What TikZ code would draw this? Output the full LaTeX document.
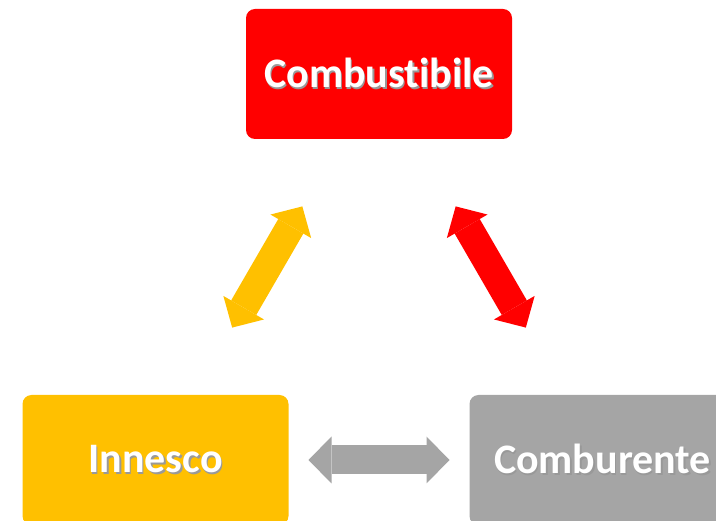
\documentclass[tikz,border=0pt]{standalone}
\usepackage{fontspec}
\setmainfont{Carlito}[Ligatures={NoCommon}]
\usepackage{xcolor}
\usetikzlibrary{arrows.meta}

\definecolor{fuelred}{HTML}{FF0000}
\definecolor{sparkyellow}{HTML}{FFC000}
\definecolor{oxgray}{HTML}{A5A5A5}
% white label with a soft drop shadow
\newcommand{\shadowed}[1]{\makebox[0pt][l]{\hspace{1.4pt}\raisebox{-1.8pt}{\textcolor{black!40}{#1}}}#1}

\tikzset{
  firebox/.style={rectangle, rounded corners=9pt, minimum width=266pt, minimum height=130pt,
    inner sep=0pt, text=white, font=\fontsize{42}{50}\selectfont\bfseries},
  fattip/.tip={Triangle[length=23pt, width=47pt, line width=0pt]},
  bigarrow/.style={line width=29pt, fattip-fattip, shorten <=153pt, shorten >=153pt}
}

\begin{document}
\begin{tikzpicture}[x=1pt, y=-1pt]
  \useasboundingbox (0,0) rectangle (716,521);
  \clip (0,0) rectangle (716,521);
  % the three corners of the fire triangle
  \node[firebox, fill=fuelred] (fuel) at (379,74) {\shadowed{Combustibile}};
  \node[firebox, fill=sparkyellow] (spark) at (155.5,460) {\shadowed{Innesco}};
  \node[firebox, fill=oxgray] (oxid) at (602.5,460) {\shadowed{Comburente}};
  % double arrows between centres, cut back from both boxes
  \draw[bigarrow, sparkyellow] (fuel.center) -- (spark.center);
  \draw[bigarrow, fuelred] (fuel.center) -- (oxid.center);
  \draw[bigarrow, oxgray] (spark.center) -- (oxid.center);
\end{tikzpicture}
\end{document}
